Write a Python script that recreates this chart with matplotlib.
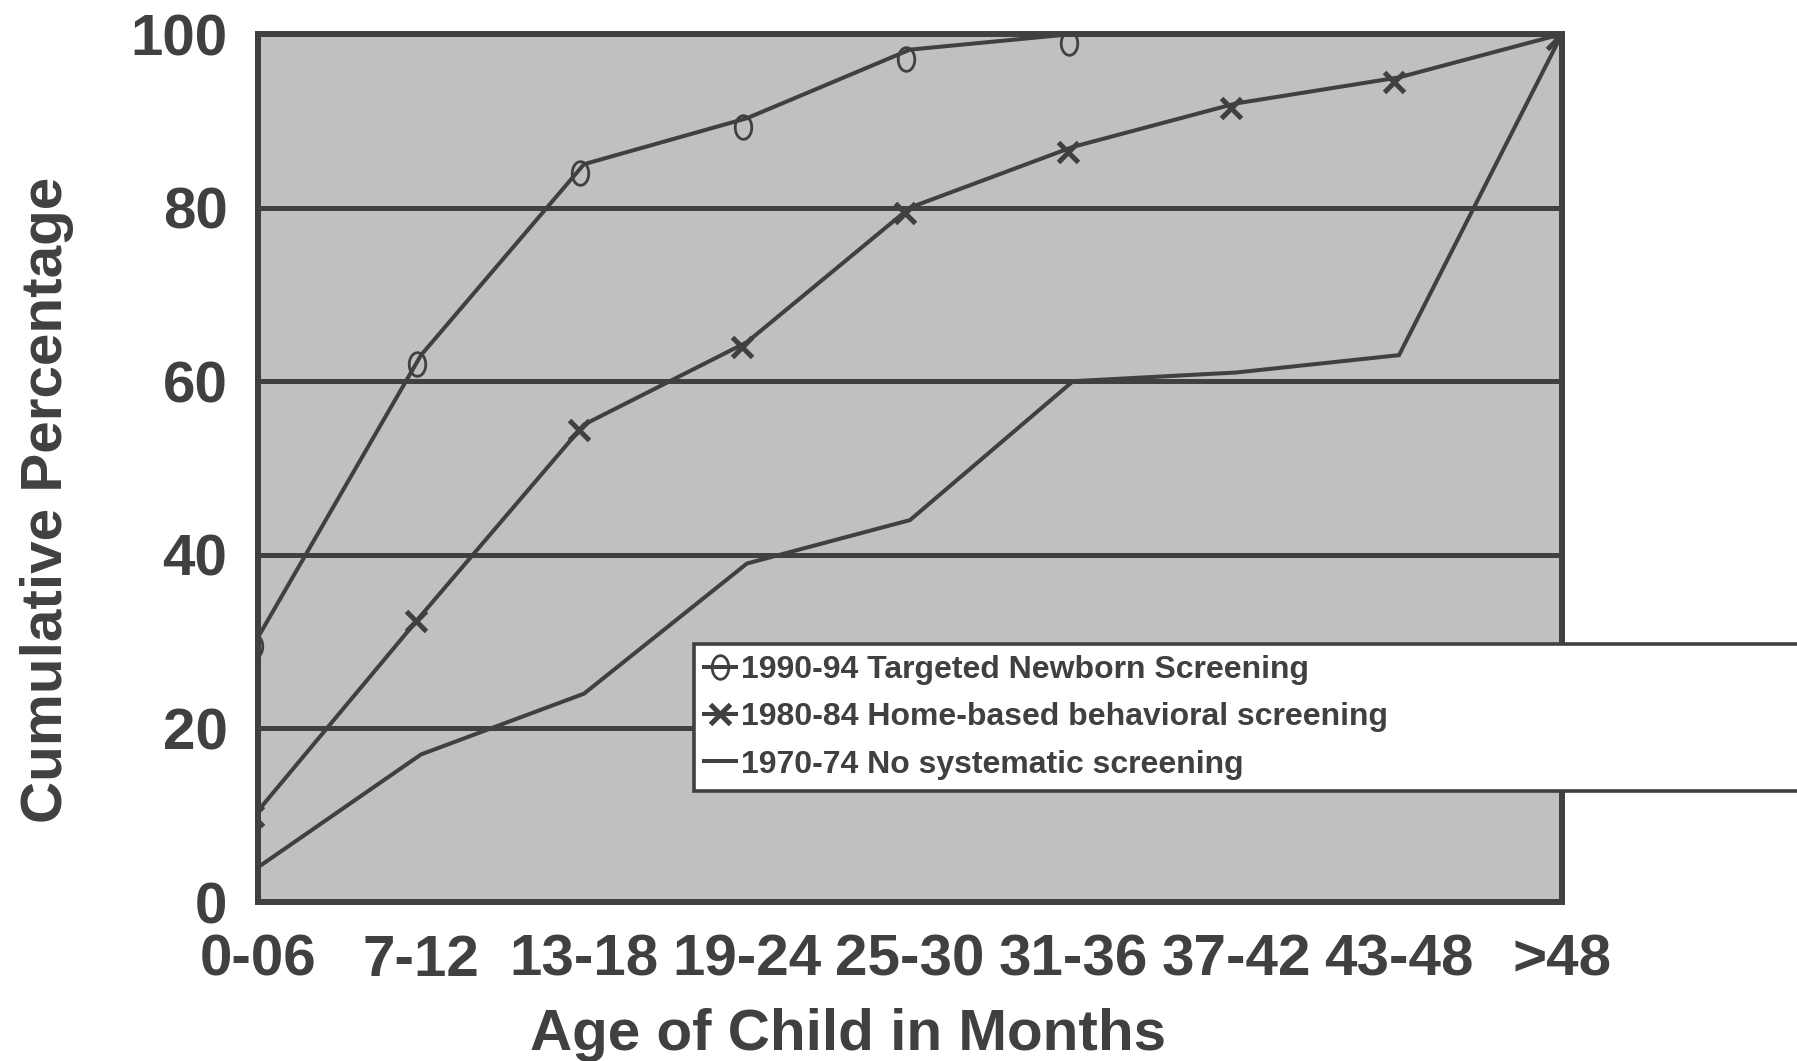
import matplotlib
matplotlib.use("Agg")
import matplotlib.pyplot as plt
import matplotlib.patches as patches
from matplotlib.lines import Line2D
from matplotlib.path import Path
from matplotlib import transforms
import numpy as np

# Données
age_groups = ["0-06", "7-12", "13-18", "19-24", "25-30", "31-36", "37-42", "43-48", ">48"]
screening_1990 = [30.5, 63, 85, 90.3, 98.2, 100]
screening_1980 = [10.5, 33, 55, 64.5, 80, 87, 92, 95, 100]
screening_1970 = [4, 17, 24, 39, 44, 60, 61, 63, 100]

labels = ["1990-94 Targeted Newborn Screening",
          "1980-84 Home-based behavioral screening",
          "1970-74 No systematic screening"]

dark = "#404040"
plt.rcParams['font.family'] = ['Liberation Sans', 'DejaVu Sans']
plt.rcParams['font.weight'] = 'bold'

# marqueur ovale (plus haut que large)
t = np.linspace(0, 2 * np.pi, 60)
oval = Path(np.column_stack([0.7 * np.cos(t), np.sin(t)]))

W, H = 1797, 1061
fig = plt.figure(figsize=(W / 100, H / 100), dpi=100)
ax = fig.add_axes([258 / W, 159 / H, 1304 / W, 868 / H])
ax.set_facecolor("#c0c0c0")

x = np.arange(len(age_groups))
line_kw = dict(color=dark, lw=2.9, solid_joinstyle='miter')
ax.plot(x[:len(screening_1990)], screening_1990, **line_kw)
ax.plot(x, screening_1980, **line_kw)
ax.plot(x, screening_1970, **line_kw)

# les marqueurs sont légèrement décalés par rapport aux sommets
off_o = transforms.offset_copy(ax.transData, fig=fig, x=-4, y=-9, units='dots')
off_x = transforms.offset_copy(ax.transData, fig=fig, x=-5, y=-5, units='dots')
ax.plot(x[:len(screening_1990)], screening_1990, ls='none', marker=oval, ms=17,
        mfc='none', mec=dark, mew=2.0, transform=off_o)
ax.plot(x, screening_1980, ls='none', marker='x', ms=14, mec=dark, mew=3.6,
        transform=off_x)

ax.set_xlim(0, 8)
ax.set_ylim(0, 100)
ax.set_xticks(x)
ax.set_xticklabels(age_groups)
ax.set_yticks([0, 20, 40, 60, 80, 100])
ax.tick_params(axis='x', length=0, pad=23, labelsize=42, colors=dark)
ax.tick_params(axis='y', length=0, pad=22, labelsize=42, colors=dark)
ax.yaxis.grid(True, color=dark, lw=3.6)
ax.set_axisbelow(True)
for s in ax.spines.values():
    s.set_color(dark)
    s.set_linewidth(4.3)

fig.text(848 / W, 1 - 1050 / H, "Age of Child in Months", ha='center', va='baseline',
         fontsize=42, color=dark, fontweight='bold')
fig.text(62 / W, 1 - 500 / H, "Cumulative Percentage", rotation=90, rotation_mode='anchor',
         ha='center', va='baseline', fontsize=42, color=dark, fontweight='bold')

# cadre de légende qui déborde à droite de la figure
rect = patches.Rectangle((694 / W, 270 / H), 1.0, 147 / H, transform=fig.transFigure,
                         fc='white', ec=dark, lw=2.6, zorder=4)
fig.add_artist(rect)

handles = [
    Line2D([], [], color=dark, lw=2.9, marker=oval, ms=17, mfc='none', mec=dark, mew=2.0),
    Line2D([], [], color=dark, lw=2.9, marker='x', ms=14, mec=dark, mew=3.6),
    Line2D([], [], color=dark, lw=2.9),
]
leg = fig.legend(handles, labels, loc='upper left', bbox_to_anchor=(704 / W, 1 - 655 / H),
                 frameon=False, fontsize=23, handlelength=1.0, handletextpad=0.15,
                 labelspacing=0.54, borderpad=0, borderaxespad=0, numpoints=1)
leg.set_zorder(5)
for txt in leg.get_texts():
    txt.set_color(dark)

plt.savefig("out.png", dpi=100)
